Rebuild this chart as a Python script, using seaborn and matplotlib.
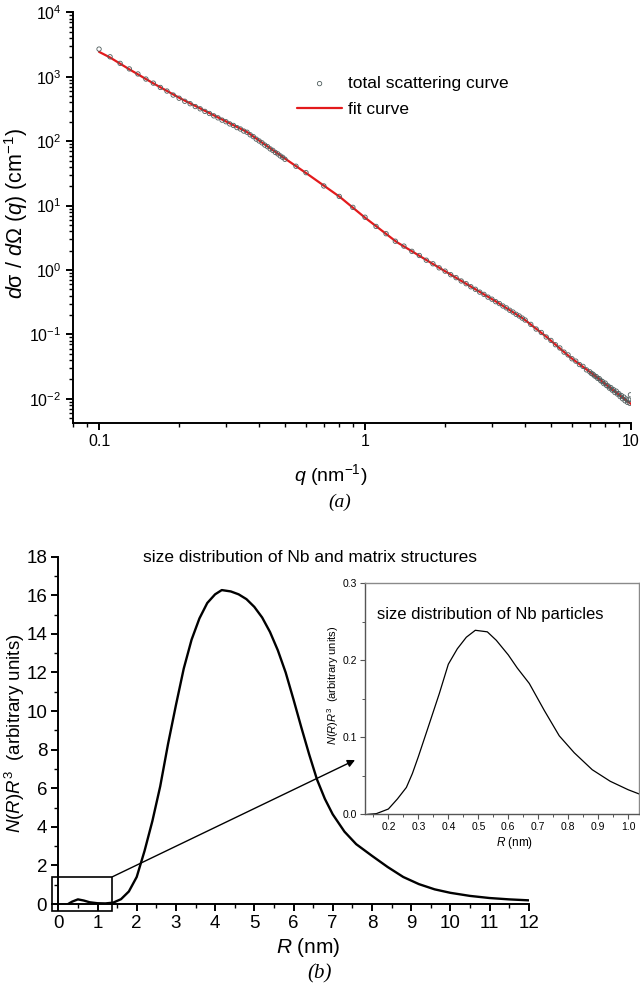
import matplotlib
matplotlib.use('Agg')
import matplotlib.pyplot as plt
import seaborn as sns
import pandas as pd
from matplotlib.patches import Rectangle
from matplotlib.ticker import MultipleLocator, LogLocator, NullFormatter, FixedLocator

# ---------------- (a) small-angle scattering ----------------
q_data = [0.10, 0.11, 0.12, 0.13, 0.14, 0.15, 0.16, 0.17, 0.18, 0.19,
          0.20, 0.21, 0.22, 0.23, 0.24, 0.25, 0.26, 0.27, 0.28, 0.29,
          0.30, 0.31, 0.32, 0.33, 0.34, 0.35, 0.36, 0.37, 0.38, 0.39,
          0.40, 0.41, 0.42, 0.43, 0.44, 0.45, 0.46, 0.47, 0.48, 0.49,
          0.50, 0.55, 0.60, 0.70, 0.80, 0.90,
          1.0, 1.1, 1.2, 1.3, 1.4, 1.5, 1.6, 1.7, 1.8, 1.9,
          2.0, 2.1, 2.2, 2.3, 2.4, 2.5, 2.6, 2.7, 2.8, 2.9,
          3.0, 3.1, 3.2, 3.3, 3.4, 3.5, 3.6, 3.7, 3.8, 3.9,
          4.0, 4.2, 4.4, 4.6, 4.8, 5.0, 5.2, 5.4, 5.6, 5.8,
          6.0, 6.2, 6.4, 6.6, 6.8,
          7.0, 7.1, 7.2, 7.3, 7.4, 7.5, 7.6, 7.7, 7.8, 7.9,
          8.0, 8.1, 8.2, 8.3, 8.4, 8.5, 8.6, 8.7, 8.8, 8.9,
          9.0, 9.1, 9.2, 9.3, 9.4, 9.5, 9.6, 9.7, 9.8, 9.9, 9.95]
I_data = [2700, 2050, 1620, 1330, 1110, 925, 800, 685, 602, 522,
          466, 418, 383, 346, 319, 291, 270, 248, 231, 213,
          201, 186, 176, 163, 155, 144, 138, 126, 118, 108,
          101, 94.5, 87.2, 82.3, 76.1, 72.2, 67.0, 63.6, 59.2, 56.3,
          52.5, 40.9, 32.5, 20.2, 13.9, 9.4,
          6.6, 4.75, 3.66, 2.80, 2.35, 1.95, 1.68, 1.42, 1.25, 1.08,
          0.96, 0.845, 0.76, 0.675, 0.612, 0.549, 0.502, 0.453, 0.418, 0.379,
          0.352, 0.322, 0.301, 0.276, 0.258, 0.237, 0.222, 0.205, 0.193, 0.179,
          0.167, 0.143, 0.121, 0.107, 0.091, 0.0805, 0.0690, 0.0615, 0.0530, 0.0480,
          0.0418, 0.0384, 0.0340, 0.0318, 0.0281,
          0.0262, 0.0247, 0.0240, 0.0226, 0.0221, 0.0207, 0.0205, 0.0190, 0.0186, 0.0172,
          0.0175, 0.0160, 0.0158, 0.0146, 0.0149, 0.0136, 0.0138, 0.0125, 0.0131, 0.0118,
          0.0120, 0.0108, 0.0112, 0.0100, 0.0106, 0.0093, 0.0099, 0.0088, 0.0096, 0.0085, 0.0115]

q_fit = [0.100, 0.110, 0.130, 0.160, 0.202, 0.269, 0.359, 0.479, 0.604, 0.805,
         1.00, 1.315, 1.75, 2.34, 3.13, 3.94, 4.82, 5.90, 7.43, 8.59, 10.0]
I_fit = [2450, 2000, 1310, 793, 464, 255, 140, 60.8, 31.5, 13.6,
         6.5, 2.72, 1.33, 0.65, 0.318, 0.175, 0.0908, 0.0443, 0.0217, 0.01345, 0.0083]

# ---------------- (b) size distribution ----------------
R_main = [0.25, 0.35, 0.5, 0.65, 0.8, 1.0, 1.2, 1.4, 1.6, 1.8, 2.0, 2.2, 2.4, 2.6, 2.8,
          3.0, 3.2, 3.4, 3.6, 3.8, 4.0, 4.17, 4.4, 4.6, 4.8, 5.0, 5.2, 5.4, 5.6, 5.8,
          6.0, 6.2, 6.4, 6.6, 6.8, 7.0, 7.3, 7.6, 8.0, 8.4, 8.8, 9.2, 9.6, 10.0,
          10.5, 11.0, 11.5, 12.0]
N_main = [0.0, 0.12, 0.24, 0.18, 0.09, 0.04, 0.03, 0.07, 0.25, 0.65, 1.4, 2.75, 4.3, 6.1, 8.3,
          10.3, 12.2, 13.7, 14.8, 15.6, 16.05, 16.27, 16.2, 16.05, 15.8, 15.4, 14.85, 14.1, 13.15, 12.0,
          10.6, 9.15, 7.75, 6.45, 5.45, 4.65, 3.75, 3.1, 2.5, 1.92, 1.4, 1.03, 0.76, 0.58,
          0.42, 0.31, 0.24, 0.19]

R_inset = [0.13, 0.16, 0.20, 0.23, 0.26, 0.28, 0.30, 0.33, 0.37, 0.40, 0.43, 0.46, 0.49,
           0.53, 0.56, 0.60, 0.63, 0.67, 0.72, 0.77, 0.82, 0.88, 0.94, 1.00, 1.04]
N_inset = [0.0, 0.001, 0.007, 0.02, 0.035, 0.053, 0.075, 0.11, 0.157, 0.195, 0.215, 0.23, 0.239,
           0.237, 0.226, 0.207, 0.19, 0.17, 0.135, 0.102, 0.08, 0.058, 0.043, 0.032, 0.026]

# zoom box and arrow (data coordinates of panel b)
zoom_box_R = [-0.17, 1.38]
zoom_box_N = [-0.36, 1.41]
arrow_end = [7.57, 7.46]

sns.set_theme(style='ticks')
plt.rcParams['font.family'] = ['Liberation Sans', 'DejaVu Sans']
plt.rcParams['mathtext.fontset'] = 'custom'
plt.rcParams['mathtext.rm'] = 'Liberation Sans'
plt.rcParams['mathtext.it'] = 'Liberation Sans:italic'
plt.rcParams['mathtext.bf'] = 'Liberation Sans:bold'
plt.rcParams['axes.edgecolor'] = 'black'
plt.rcParams['xtick.color'] = 'black'
plt.rcParams['ytick.color'] = 'black'
plt.rcParams['text.color'] = 'black'
plt.rcParams['axes.labelcolor'] = 'black'
plt.rcParams['lines.solid_joinstyle'] = 'round'

W, H = 640, 988
fig = plt.figure(figsize=(6.4, 9.88), dpi=100)

def frac(x0, y0, x1, y1):
    return [x0 / W, 1 - y1 / H, (x1 - x0) / W, (y1 - y0) / H]

# ---------------- top panel ----------------
ax1 = fig.add_axes(frac(72.7, 12.5, 631, 423))
df_a = pd.DataFrame({'q': q_data, 'I': I_data})
df_f = pd.DataFrame({'q': q_fit, 'I': I_fit})
sns.lineplot(data=df_f, x='q', y='I', ax=ax1, color='#e31a1c', lw=1.6,
             label='fit curve', zorder=2)
sns.scatterplot(data=df_a, x='q', y='I', ax=ax1, marker='o', s=10,
                facecolor='none', edgecolor='#4f5d5d', linewidth=0.6,
                label='total scattering curve', zorder=3)
ax1.set_xscale('log')
ax1.set_yscale('log')
ax1.set_xlim(0.0796, 10)
ax1.set_ylim(0.0042, 1e4)
ax1.yaxis.set_major_locator(LogLocator(base=10, numticks=20))
ax1.yaxis.set_minor_locator(LogLocator(base=10, subs=range(2, 10), numticks=50))
ax1.yaxis.set_minor_formatter(NullFormatter())
ax1.xaxis.set_major_locator(FixedLocator([0.1, 1, 10]))
ax1.xaxis.set_major_formatter(plt.FuncFormatter(lambda v, p: {0.1: '0.1', 1: '1', 10: '10'}.get(round(v, 3), '')))
ax1.xaxis.set_minor_locator(LogLocator(base=10, subs=range(2, 10), numticks=50))
ax1.xaxis.set_minor_formatter(NullFormatter())
for sp in ['left', 'bottom']:
    ax1.spines[sp].set_linewidth(1.4)
sns.despine(ax=ax1)
ax1.tick_params(which='major', direction='out', length=5, width=1.4, labelsize=11.5, pad=3)
ax1.tick_params(which='minor', direction='out', length=3, width=1.0)
ax1.set_xlabel(r'$\mathit{q}$ (nm$^{-1}$)', fontsize=14)
ax1.set_ylabel(r'$\mathit{d}$σ / $\mathit{d}$Ω ($\mathit{q}$) (cm$^{-1}$)', fontsize=15.5)
ax1.xaxis.set_label_coords((331 - 72.7) / 558.3, (423 - 475) / 410.5)
ax1.xaxis.label.set_va('center')
ax1.yaxis.set_label_coords((16 - 72.7) / 558.3, (423 - 214) / 410.5)
ax1.yaxis.label.set_va('center')
h, l = ax1.get_legend_handles_labels()
order = [l.index('total scattering curve'), l.index('fit curve')]
ax1.legend([h[i] for i in order], [l[i] for i in order], loc='upper left',
           bbox_to_anchor=(297 / W, 1 - 76 / H), bbox_transform=fig.transFigure,
           frameon=False, fontsize=12.5, handlelength=2.6, handletextpad=0.35,
           labelspacing=0.62, borderpad=0, borderaxespad=0, markerscale=1.0)
fig.text(340 / W, 1 - 502 / H, '(a)', ha='center', va='center', fontsize=14,
         family=['Liberation Serif'], style='italic')

# ---------------- bottom panel ----------------
ax2 = fig.add_axes(frac(58.3, 556.7, 528.7, 904))
sns.lineplot(x=R_main, y=N_main, ax=ax2, color='black', lw=1.7)
ax2.set_xlim(0, 12)
ax2.set_ylim(0, 18)
ax2.xaxis.set_major_locator(MultipleLocator(1))
ax2.xaxis.set_minor_locator(MultipleLocator(0.5))
ax2.yaxis.set_major_locator(MultipleLocator(2))
ax2.yaxis.set_minor_locator(MultipleLocator(1))
for sp in ['left', 'bottom']:
    ax2.spines[sp].set_linewidth(1.4)
sns.despine(ax=ax2)
ax2.tick_params(which='major', direction='out', length=5, width=1.4, labelsize=13.5, pad=3)
ax2.tick_params(which='minor', direction='out', length=3, width=1.0)
ax2.set_xlabel(r'$\mathit{R}$ (nm)', fontsize=15)
ax2.set_ylabel(r'$\mathit{N}$($\mathit{R}$)$\mathit{R}^{3}$  (arbitrary units)', fontsize=13.5)
ax2.xaxis.set_label_coords((308 - 58.3) / 470.4, (904 - 947) / 347.3)
ax2.xaxis.label.set_va('center')
ax2.yaxis.set_label_coords((15 - 58.3) / 470.4, (904 - 733) / 347.3)
ax2.yaxis.label.set_va('center')
ax2.text((310 - 58.3) / 470.4, (904 - 557) / 347.3,
         'size distribution of Nb and matrix structures', transform=ax2.transAxes,
         ha='center', va='center', fontsize=12.5)
ax2.add_patch(Rectangle((zoom_box_R[0], zoom_box_N[0]), zoom_box_R[1] - zoom_box_R[0],
                        zoom_box_N[1] - zoom_box_N[0], fill=False, ec='black', lw=1.2,
                        clip_on=False, zorder=5))
ax2.annotate('', xy=(arrow_end[0], arrow_end[1]), xytext=(zoom_box_R[1], zoom_box_N[1]),
             arrowprops=dict(arrowstyle='-|>', color='black', lw=1.0, mutation_scale=11,
                             shrinkA=0, shrinkB=0), annotation_clip=False)
fig.text(320 / W, 1 - 974 / H, '(b)', ha='center', va='center', fontsize=15,
         family=['Liberation Serif'], style='italic')

# ---------------- inset ----------------
ax3 = fig.add_axes(frac(365, 583.3, 639.3, 814.4))
sns.lineplot(x=R_inset, y=N_inset, ax=ax3, color='black', lw=0.9)
ax3.set_xlim(0.122, 1.037)
ax3.set_ylim(0, 0.3)
ax3.xaxis.set_major_locator(MultipleLocator(0.1))
ax3.xaxis.set_minor_locator(MultipleLocator(0.05))
ax3.yaxis.set_major_locator(MultipleLocator(0.1))
ax3.yaxis.set_minor_locator(MultipleLocator(0.05))
ax3.xaxis.set_major_formatter(plt.FuncFormatter(lambda v, p: f'{v:.1f}'))
ax3.yaxis.set_major_formatter(plt.FuncFormatter(lambda v, p: f'{v:.1f}'))
for sp in ['top', 'right']:
    ax3.spines[sp].set_color('#8a8a8a')
    ax3.spines[sp].set_linewidth(1.0)
for sp in ['left', 'bottom']:
    ax3.spines[sp].set_color('#555555')
    ax3.spines[sp].set_linewidth(1.0)
ax3.tick_params(which='major', direction='out', length=3.5, width=0.8, labelsize=7.5,
                pad=2, color='#555555')
ax3.tick_params(which='minor', direction='out', length=2, width=0.7, color='#555555')
ax3.set_xlabel(r'$\mathit{R}$ (nm)', fontsize=8.5)
ax3.set_ylabel(r'$\mathit{N}$($\mathit{R}$)$\mathit{R}^{3}$  (arbitrary units)', fontsize=8)
ax3.xaxis.set_label_coords((515 - 365) / 274.3, (814.4 - 843) / 231.1)
ax3.xaxis.label.set_va('center')
ax3.yaxis.set_label_coords((333 - 365) / 274.3, (814.4 - 685) / 231.1)
ax3.yaxis.label.set_va('center')
ax3.text((376.7 - 365) / 274.3, (814.4 - 615) / 231.1, 'size distribution of Nb particles',
         transform=ax3.transAxes, ha='left', va='center', fontsize=12)

fig.savefig('out.png', dpi=100)
